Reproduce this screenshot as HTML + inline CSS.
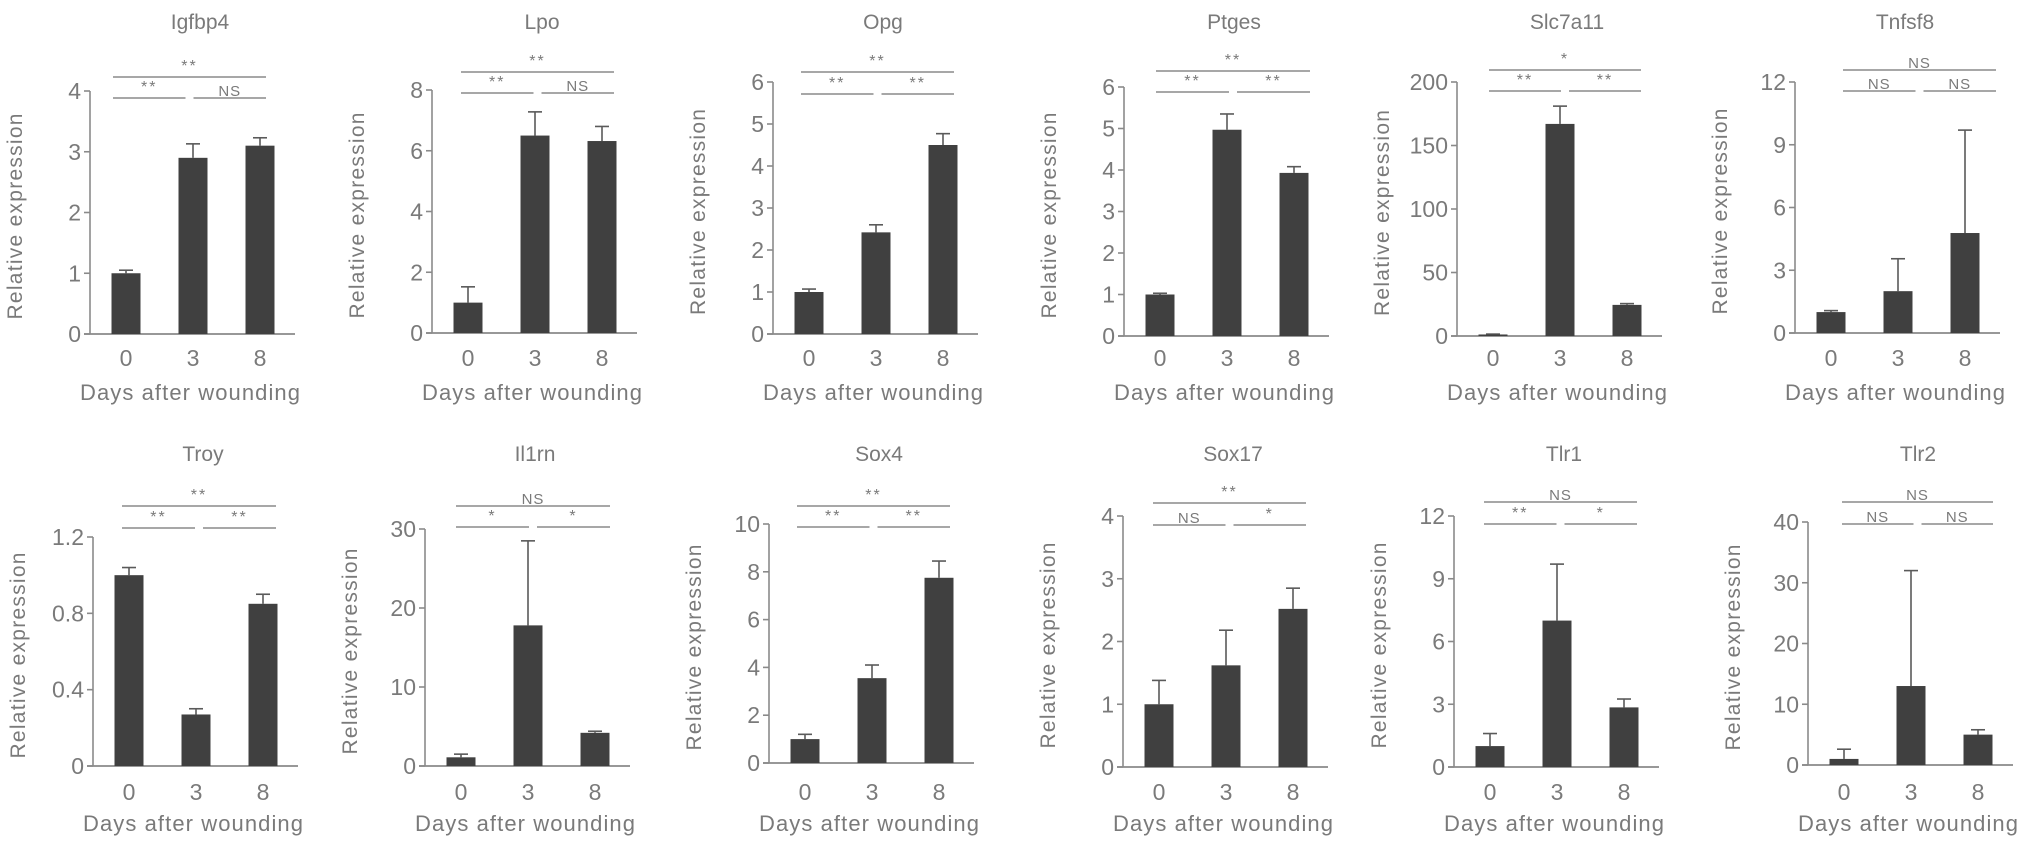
<!DOCTYPE html>
<html><head><meta charset="utf-8">
<style>
html,body{margin:0;padding:0;background:#fff;}
svg{display:block;font-family:"Liberation Sans",Arial,sans-serif;}
</style></head>
<body>
<svg id="fig" width="2031" height="847" viewBox="0 0 2031 847" xmlns="http://www.w3.org/2000/svg"></svg>
<script>
// ---- data ----
const panelNames = ["Igfbp4","Lpo","Opg","Ptges","Slc7a11","Tnfsf8","Troy","Il1rn","Sox4","Sox17","Tlr1","Tlr2"];
const categories = ["0","3","8"];
const meanValues = [
  [1.0,2.9,3.1],[1.0,6.5,6.32],[1.0,2.42,4.5],[1.0,4.97,3.93],[1.2,167,24.5],[1.0,2.0,4.78],
  [1.0,0.27,0.85],[1.1,17.8,4.2],[1.0,3.55,7.75],[1.0,1.62,2.52],[1.0,7.0,2.85],[1.0,13,5.0]
];
const errorTops = [
  [1.05,3.13,3.23],[1.52,7.28,6.8],[1.07,2.6,4.77],[1.03,5.35,4.08],[1.5,181,25.5],[1.07,3.55,9.7],
  [1.04,0.30,0.90],[1.5,28.5,4.4],[1.2,4.1,8.45],[1.38,2.18,2.85],[1.6,9.7,3.25],[2.6,32,5.8]
];
const tickLabels = [
  ["0","1","2","3","4"],["0","2","4","6","8"],["0","1","2","3","4","5","6"],["0","1","2","3","4","5","6"],
  ["0","50","100","150","200"],["0","3","6","9","12"],["0","0.4","0.8","1.2"],["0","10","20","30"],
  ["0","2","4","6","8","10"],["0","1","2","3","4"],["0","3","6","9","12"],["0","10","20","30","40"]
];
const sigAll = ["**","**","**","**","*","NS","**","NS","**","**","NS","NS"];
const sigLeft = ["**","**","**","**","**","NS","**","*","**","NS","**","NS"];
const sigRight = ["NS","NS","**","**","**","NS","**","*","**","*","*","NS"];

// ---- layout (pixels) ----
const layAxisX = [90,432,773,1124,1457,1795, 93,425,769,1123,1454,1808];
const layTopY  = [91,90,82,87,82,82, 537,529,524,516,516,522];
const layZeroY = [334,333,334,336,336,333, 766,766,763,767,767,765];
const layBarOff = [36,103,170];
const layBrX0 = [113,461,801,1156,1489,1843, 122,456,797,1153,1484,1842];
const layBrX1 = [266,614,954,1310,1641,1996, 276,610,950,1306,1637,1993];
const layBrTop = [77,72,72,71,70,70, 506,506,506,503,502,502];
const layBrLow = [98,93,94,92,91,91, 528,527,527,525,524,524];

const NS = "http://www.w3.org/2000/svg";
const svg = document.getElementById("fig");
function mk(tag, attrs, parent){const e=document.createElementNS(NS,tag);for(const k in attrs)e.setAttribute(k,attrs[k]);(parent||svg).appendChild(e);return e;}
const AX = "#8a8a8a", TX = "#7a7a7a", BAR = "#404040", ERR="#5a5a5a";

panelNames.forEach((name,i)=>{
  const row = i<6?0:1;
  const g = mk("g",{});
  
  
  const ax = layAxisX[i], top = layTopY[i], zero = layZeroY[i];
  const ticks = tickLabels[i];
  const yMax = parseFloat(ticks[ticks.length-1]);
  const yScale = v => zero - (v/yMax)*(zero-top);
  const xScale = k => ax + layBarOff[k];

  const t = mk("text",{x:ax+110,y:row?461:29,"text-anchor":"middle","font-size":21,fill:TX},g);
  t.textContent = name;
  
  

  const ya = mk("line",{x1:ax,y1:top,x2:ax,y2:zero,stroke:AX,"stroke-width":1.6},g);
  
  
  ticks.forEach(tl=>{
    const v=parseFloat(tl), y=yScale(v);
    mk("line",{x1:ax-6,y1:y,x2:ax,y2:y,stroke:AX,"stroke-width":1.6},g);
    const tt = mk("text",{x:ax-9,y:y+8,"text-anchor":"end","font-size":23,fill:TX},g);
    tt.textContent = tl;
    
    
  });
  const xa = mk("line",{x1:ax-6,y1:zero,x2:ax+205,y2:zero,stroke:AX,"stroke-width":1.8},g);
  
  

  const cy = (top+zero)/2+4, cx = ax-68;
  const yt = mk("text",{x:cx,y:cy,"text-anchor":"middle","font-size":21,fill:TX,transform:`rotate(-90 ${cx} ${cy})`,textLength:206,lengthAdjust:"spacing"},g);
  yt.textContent = "Relative expression";
  
  

  categories.forEach((c,k)=>{
    const xc = xScale(k), v = meanValues[i][k], e = errorTops[i][k];
    const yb = yScale(v), ye = yScale(e);
    mk("line",{x1:xc,y1:yb,x2:xc,y2:ye,stroke:ERR,"stroke-width":1.6},g);
    mk("line",{x1:xc-7,y1:ye,x2:xc+7,y2:ye,stroke:ERR,"stroke-width":1.6},g);
    const r = mk("rect",{x:xc-14.5,y:yb,width:29,height:Math.max(zero-yb,1),fill:BAR},g);
    
    
    const xl = mk("text",{x:xc,y:row?800:366,"text-anchor":"middle","font-size":23,fill:TX},g);
    xl.textContent = c;
    
    
  });

  const xt = mk("text",{x:ax+100,y:row?831:400,"text-anchor":"middle","font-size":22,fill:TX,textLength:220,lengthAdjust:"spacing"},g);
  xt.textContent = "Days after wounding";
  
  

  const b0=layBrX0[i], b1=layBrX1[i], mid=(b0+b1)/2;
  const lines=[[b0,b1,layBrTop[i],sigAll[i]],[b0,mid-4,layBrLow[i],sigLeft[i]],[mid+4,b1,layBrLow[i],sigRight[i]]];
  lines.forEach(([x1,x2,y,lab])=>{
    const l = mk("line",{x1:x1,y1:y,x2:x2,y2:y,stroke:AX,"stroke-width":1.6},g);
    
    
    const st = mk("text",{x:(x1+x2)/2,y:lab==="NS"?y-2:y-6,"text-anchor":"middle","font-size":lab==="NS"?15:16,fill:TX,"letter-spacing":lab==="NS"?1:2},g);
    st.textContent = lab;
    
    
  });
});
</script>
</body></html>
